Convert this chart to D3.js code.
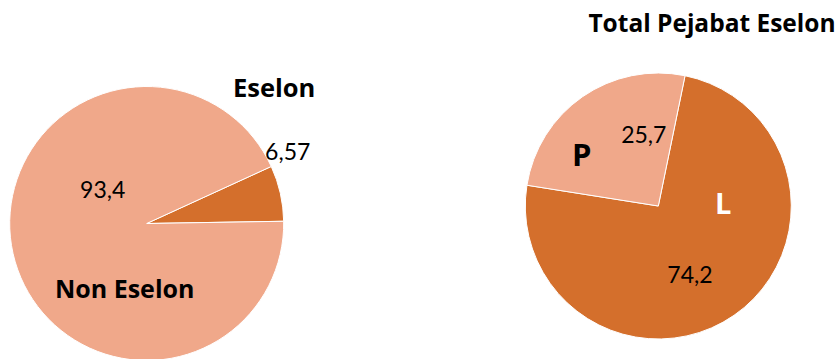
<!DOCTYPE html>
<html>
<head>
<meta charset="utf-8">
<script src="https://cdn.jsdelivr.net/npm/d3@7"></script>
<style>
  html, body { margin: 0; padding: 0; background: #fff; }
  svg { display: block; }
  text { font-family: Lato, "Open Sans", sans-serif; }
  text.bold { font-family: "Open Sans", Lato, sans-serif; font-weight: 700; }
</style>
</head>
<body>
<svg id="chart" width="838" height="359"></svg>
<script>
// Share of officials: echelon vs non-echelon
const eselonCategories = ["Eselon", "Non Eselon"];
const eselonValues = [6.57, 93.4];
const eselonValueLabels = ["6,57", "93,4"];

// Echelon officials by sex
const genderTitle = "Total Pejabat Eselon";
const genderCategories = ["L", "P"];
const genderValues = [74.2, 25.7];
const genderValueLabels = ["74,2", "25,7"];

const colorLight = "#F0A88A";
const colorDark = "#D46F2C";

const svg = d3.select("#chart");
const deg = Math.PI / 180;

function drawPie(cfg) {
  const g = svg.append("g").attr("transform", `translate(${cfg.cx},${cfg.cy})`);
  const pie = d3.pie().sort(null).value(d => d.value)
    .startAngle(cfg.start * deg).endAngle((cfg.start + 360) * deg);
  const arc = d3.arc().innerRadius(0).outerRadius(cfg.r);
  const data = cfg.categories.map((c, i) => ({ name: c, value: cfg.values[i], label: cfg.labels[i] }));
  const color = d3.scaleOrdinal().domain(cfg.categories).range(cfg.colors);
  g.selectAll("path").data(pie(data)).join("path")
    .attr("d", arc)
    .attr("fill", d => color(d.data.name))
    .attr("stroke", "#fff")
    .attr("stroke-width", 1);
  return g;
}

function label(g, x, y, size, txt, opts = {}) {
  return g.append("text")
    .attr("class", opts.bold ? "bold" : null)
    .attr("x", x).attr("y", y).attr("text-anchor", "middle")
    .attr("font-size", size).attr("fill", opts.fill || "#000").text(txt);
}

// Left pie
const left = drawPie({
  cx: 146.7, cy: 223.5, r: 137, start: 65.4,
  categories: eselonCategories, values: eselonValues, labels: eselonValueLabels,
  colors: [colorDark, colorLight]
});
label(left, 127.5, -126.5, 25.5, eselonCategories[0], { bold: true });
label(left, 141, -63.5, 23, eselonValueLabels[0]);
label(left, -44, -26, 23, eselonValueLabels[1]);
label(left, -22, 74.5, 25, eselonCategories[1], { bold: true });

// Right pie
const right = drawPie({
  cx: 658.3, cy: 206, r: 133, start: 11.6,
  categories: genderCategories, values: genderValues, labels: genderValueLabels,
  colors: [colorDark, colorLight]
});
label(svg, 712, 31.7, 24.5, genderTitle, { bold: true });
label(right, -76.5, -40.3, 31, genderCategories[1], { bold: true });
label(right, -14.5, -63.3, 23, genderValueLabels[1]);
label(right, 65, 7.5, 29, genderCategories[0], { bold: true, fill: "#fff" });
label(right, 31.7, 76.7, 23, genderValueLabels[0]);
</script>
</body>
</html>
